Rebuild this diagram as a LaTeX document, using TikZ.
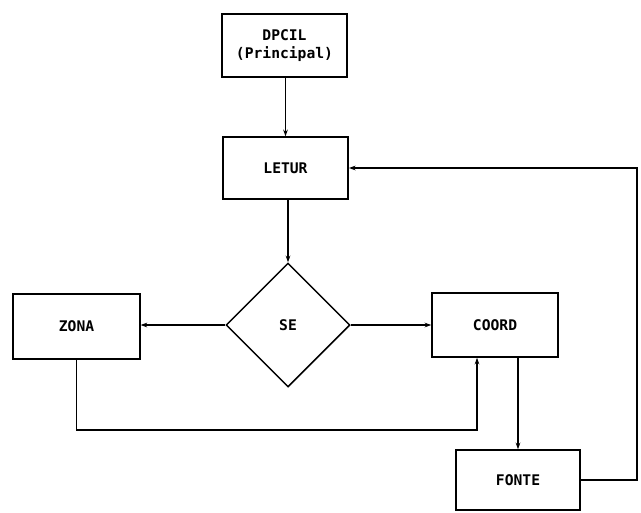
\documentclass[tikz,border=0pt]{standalone}
\usepackage{fontspec}
\setmonofont{DejaVu Sans Mono}
\usetikzlibrary{shapes.geometric,arrows.meta,calc}
\begin{document}
\begin{tikzpicture}[x=0.75pt,y=-0.75pt,
  box/.style={draw,line width=1.1pt,minimum width=94pt,minimum height=47pt,inner sep=0pt,
    font=\ttfamily\bfseries\fontsize{11}{13}\selectfont,align=center},
  dec/.style={draw,diamond,line width=1.1pt,minimum width=93pt,minimum height=93pt,inner sep=0pt,
    font=\ttfamily\bfseries\fontsize{11}{13}\selectfont},
  conn/.style={line width=0.9pt,-{Stealth[length=5pt,width=3.5pt]}},
  plain/.style={line width=0.9pt}]
\useasboundingbox (0,0) rectangle (641,512);
\node[box,minimum height=47pt] (dpcil) at (284.5,45.5) {DPCIL\\(Principal)};
\node[box,minimum height=46.5pt] (letur) at (285.5,168) {LETUR};
\node[dec] (se) at (288,325) {SE};
\node[box,minimum width=95pt,minimum height=48.5pt] (zona) at (76.5,326.5) {ZONA};
\node[box,minimum width=94.5pt,minimum height=48pt] (coord) at (495,325) {COORD};
\node[box,minimum width=93pt,minimum height=45pt] (fonte) at (518,480) {FONTE};
\coordinate (zl) at (477,430);
\coordinate (fr) at (637,0);
\draw[conn] (dpcil.south -| letur) -- (letur.north);
\draw[conn] (letur.south -| se) -- (se.north);
\draw[conn] (se.west) -- (se.west -| zona.east);
\draw[conn] (se.east) -- (se.east -| coord.west);
\draw[conn] (zona.south) |- (zl) -- (zl |- coord.south);
\draw[conn] (coord.south -| fonte) -- (fonte.north);
\draw[conn] (fonte.east) -| (fr |- letur.east) -- (letur.east);
\end{tikzpicture}
\end{document}
